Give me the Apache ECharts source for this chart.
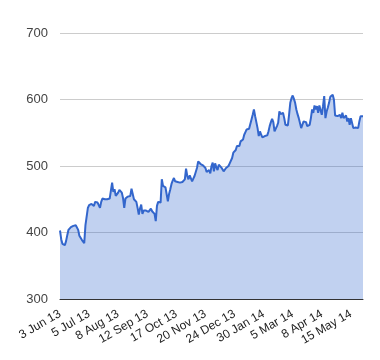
<!DOCTYPE html>
<html><head><meta charset="utf-8">
<script src="https://cdn.jsdelivr.net/npm/echarts@6/dist/echarts.min.js"></script>
<style>html,body{margin:0;padding:0;background:#fff}#c{width:380px;height:360px}</style>
</head><body><div id="c"></div>
<script>
// ---- data ----
const startDate = '2013-06-03';
const pointCount = 251;
const missingDays = ['2013-08-26','2013-09-30','2013-12-25','2013-12-26','2014-01-01','2014-04-18','2014-04-21','2014-05-05','2014-05-26'];
const monthNames = ['Jan','Feb','Mar','Apr','May','Jun','Jul','Aug','Sep','Oct','Nov','Dec'];
const yTicks = [300, 400, 500, 600, 700];
const prices = [
403,390,383,386,381,387,396,404,407,408,409,410,409,411,410,404,395,392,389,390,
384,411,414,437,441,442,443,441,440,446,448,445,444,437,446,451,451,450,451,450,
452,451,450,475,461,465,455,458,460,464,466,460,452,437,451,453,454,452,455,466,
465,450,448,446,437,427,436,442,428,433,436,433,435,431,434,436,432,434,428,417,
440,446,444,445,480,470,467,468,466,447,458,465,473,478,482,477,478,476,475,475,
474,476,478,480,496,485,480,486,483,477,481,485,491,497,507,506,503,502,501,500,
497,491,489,494,489,500,505,492,504,498,494,502,500,498,495,492,495,497,499,500,
504,507,512,520,519,524,530,528,530,537,539,540,547,551,555,557,556,556,570,577,
585,575,572,557,545,552,547,543,540,545,543,546,552,560,566,571,566,552,555,560,
565,582,578,577,580,572,562,563,561,577,595,602,606,601,595,585,578,572,575,557,
562,567,567,566,560,561,562,572,585,580,591,585,590,580,591,584,577,590,605,572,
582,588,595,604,607,607,600,576,576,575,576,577,572,580,572,574,576,567,572,562,
572,570,557,559,558,555,557,567,575,575,575
];

// ---- categories: trading days ----
const categories = [];
(function(){
  const d = new Date(startDate + 'T00:00:00Z');
  while (categories.length < pointCount) {
    const iso = d.toISOString().slice(0,10);
    const wd = d.getUTCDay();
    if (wd !== 0 && wd !== 6 && missingDays.indexOf(iso) < 0) {
      categories.push(d.getUTCDate() + ' ' + monthNames[d.getUTCMonth()] + ' ' + String(d.getUTCFullYear()).slice(2));
    }
    d.setUTCDate(d.getUTCDate() + 1);
  }
})();

const chart = echarts.init(document.getElementById('c'), null, {renderer: 'canvas'});
chart.setOption({
  animation: false,
  backgroundColor: '#fff',
  grid: {left: 60, right: 17, top: 33, bottom: 61},
  xAxis: {
    type: 'category',
    data: categories,
    boundaryGap: false,
    axisLine: {lineStyle: {color: '#333', width: 1}},
    axisTick: {show: false},
    axisLabel: {
      interval: 23, rotate: 30, margin: 14,
      color: '#222', fontSize: 12, fontFamily: 'Liberation Sans, Arial, sans-serif'
    },
    splitLine: {show: false}
  },
  yAxis: {
    type: 'value',
    min: yTicks[0], max: yTicks[yTicks.length - 1], interval: 100,
    axisLine: {show: false},
    axisTick: {show: false},
    axisLabel: {margin: 12, color: '#444', fontSize: 13, fontFamily: 'Liberation Sans, Arial, sans-serif'},
    splitLine: {lineStyle: {color: '#ccc', width: 1}}
  },
  series: [{
    type: 'line',
    data: prices,
    showSymbol: false,
    symbol: 'none',
    lineStyle: {color: '#3366cc', width: 2},
    areaStyle: {color: '#3366cc', opacity: 0.3},
    z: 2
  }]
});
</script>
</body></html>
